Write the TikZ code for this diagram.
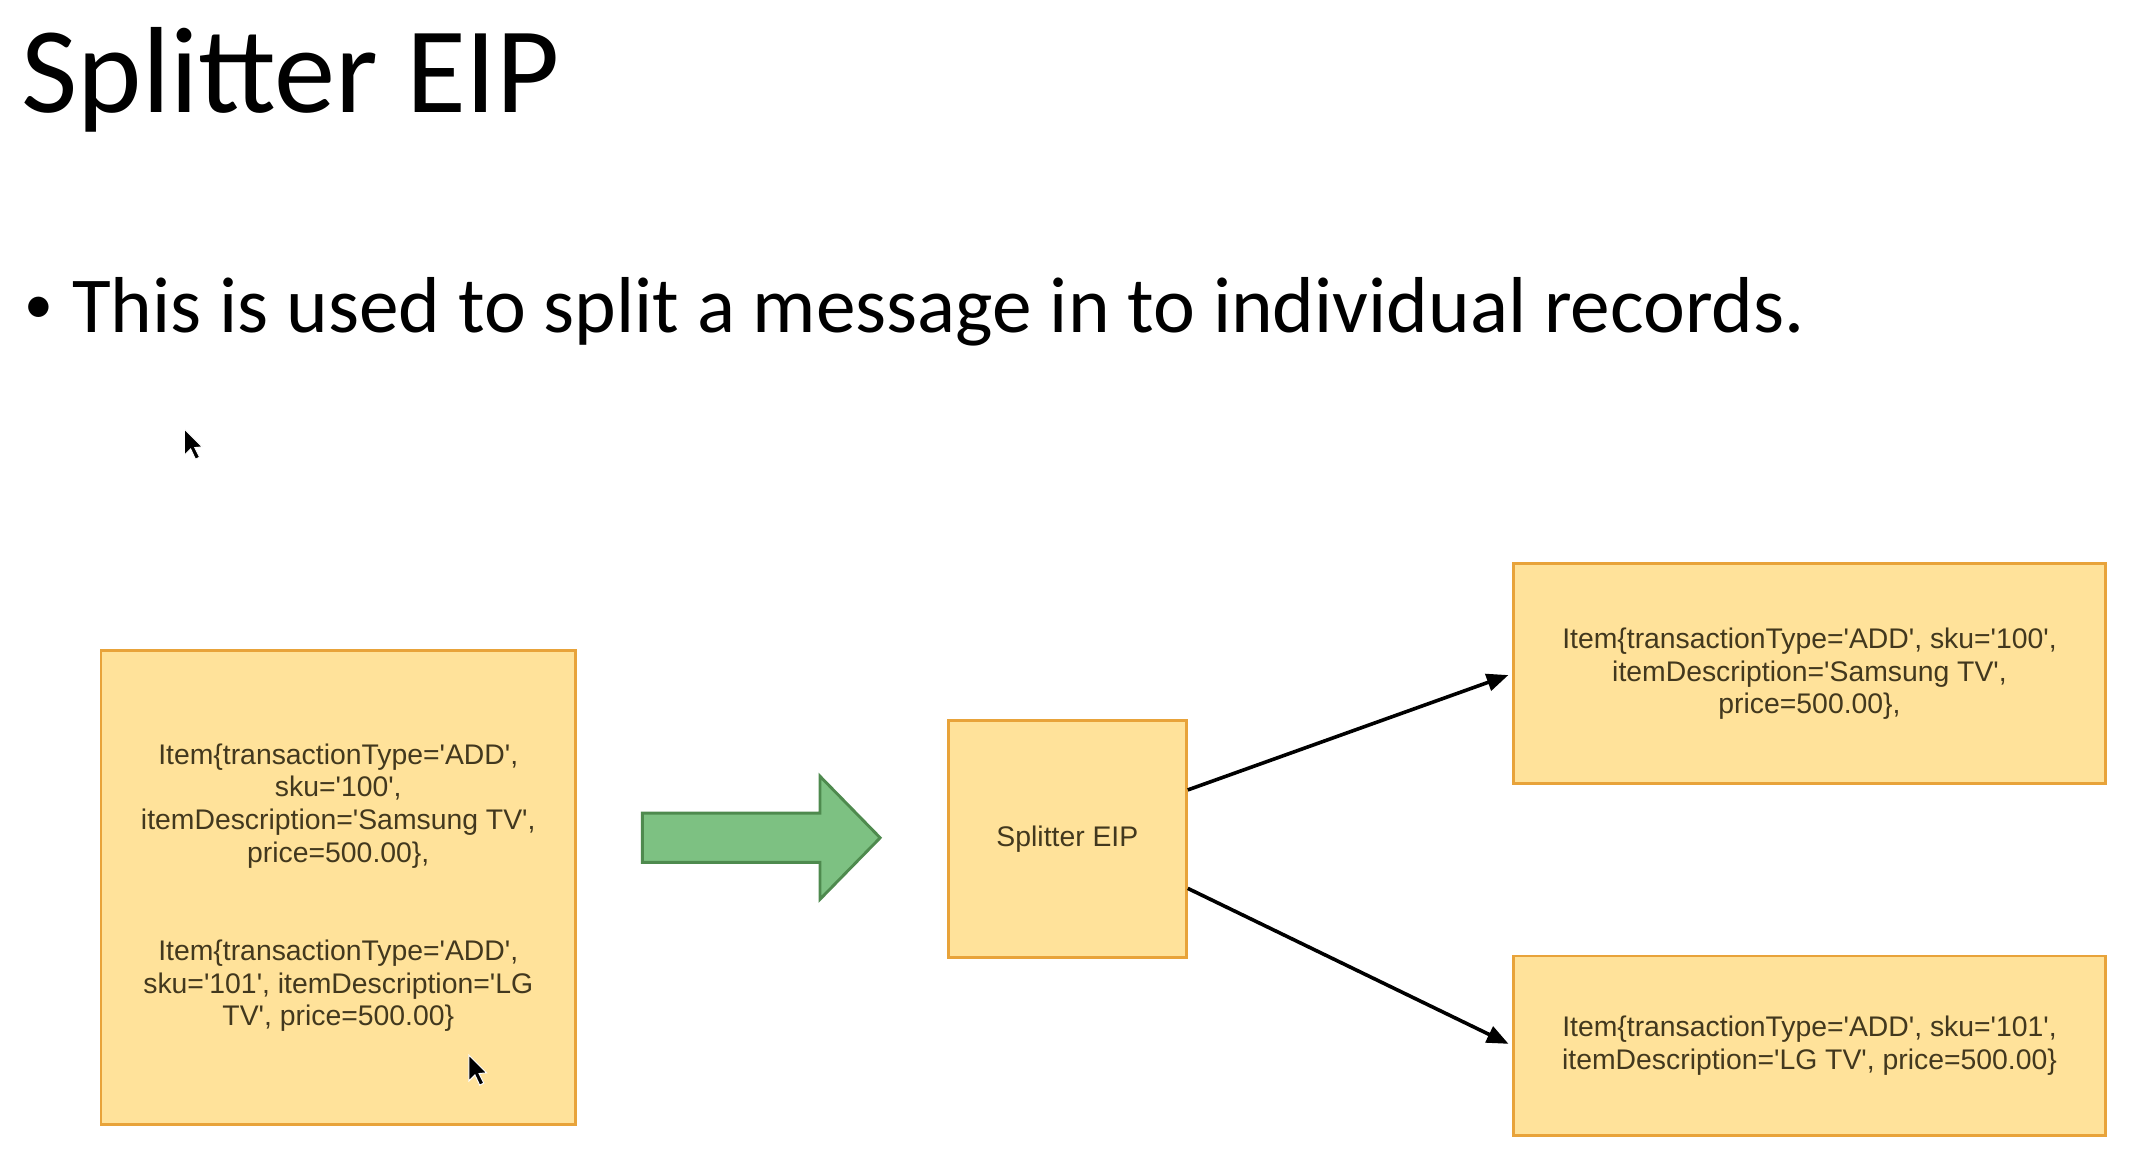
\documentclass[tikz,border=0pt]{standalone}
\usepackage{fontspec}
\setmainfont{Carlito}
\newfontfamily\boxfont{Liberation Sans}
\usetikzlibrary{arrows.meta}
\definecolor{boxfill}{RGB}{255,226,154}
\definecolor{boxline}{RGB}{232,163,58}
\definecolor{arrfill}{RGB}{125,193,130}
\definecolor{arrline}{RGB}{78,138,78}
\definecolor{boxtext}{RGB}{66,56,30}
\begin{document}
\begin{tikzpicture}[x=0.01cm,y=-0.01cm,
  itembox/.style={draw=boxline, fill=boxfill, line width=0.6pt, inner sep=0pt,
    font=\boxfont\fontsize{5.9}{6.8}\selectfont, text=boxtext, align=center},
  flow/.style={-{Triangle[length=4.5pt,width=3.6pt]}, line width=0.75pt, shorten >=0.8pt},
  cursor/.style={fill=black, draw=white, line width=0.2pt}]
\useasboundingbox (0,0) rectangle (1568,849);
% title and bullet
\node[anchor=base west, inner sep=0pt, font=\fontsize{25.5}{30}\selectfont] (title) at (15,82) {Splitter EIP};
\node[anchor=base west, inner sep=0pt, font=\fontsize{12}{14}\selectfont] (dot) at (17,237) {•};
\node[anchor=base west, inner sep=0pt, font=\fontsize{16.5}{20}\selectfont] (bullet) at (52,243) {This is used to split a message in to individual records.};
% boxes
\node[itembox, minimum width=3.47cm, minimum height=3.47cm] (src) at (247.5,649.5)
  {Item\{transactionType='ADD',\\ sku='100',\\ itemDescription='Samsung TV',\\ price=500.00\},\\ \mbox{}\\ \mbox{}\\
   Item\{transactionType='ADD',\\ sku='101', itemDescription='LG\\ TV', price=500.00\}};
\node[itembox, minimum width=1.74cm, minimum height=1.73cm] (split) at (781,614) {Splitter EIP};
\node[itembox, minimum width=4.33cm, minimum height=1.61cm] (out1) at (1324,493)
  {Item\{transactionType='ADD', sku='100',\\ itemDescription='Samsung TV',\\ price=500.00\},};
\node[itembox, minimum width=4.33cm, minimum height=1.31cm] (out2) at (1324,765)
  {Item\{transactionType='ADD', sku='101',\\ itemDescription='LG TV', price=500.00\}};
% green block arrow
\draw[fill=arrfill, draw=arrline, line width=0.6pt, line join=miter]
  (470,595) -- (600,595) -- (600,568) -- (644,613) -- (600,658) -- (600,631) -- (470,631) -- cycle;
% connectors
\draw[flow] ([yshift=0.36cm]split.east) -- (out1.west);
\draw[flow] ([yshift=-0.36cm]split.east) -- (out2.west);
% mouse pointers
\draw[cursor] (135,314) -- (135,333) -- (139.5,328.5) -- (143,336) -- (146,334.5) -- (142.5,327.5) -- (148,327) -- cycle;
\draw[cursor] (343,772) -- (343,791) -- (347.5,786.5) -- (351,794) -- (354,792.5) -- (350.5,785.5) -- (356,785) -- cycle;
\end{tikzpicture}
\end{document}
